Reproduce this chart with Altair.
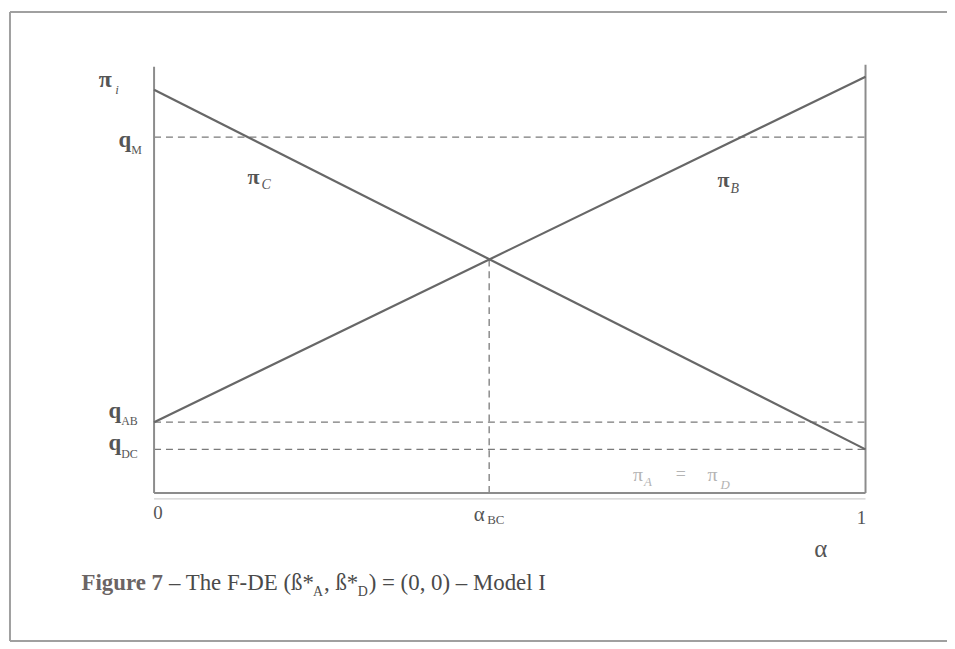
import altair as alt
import pandas as pd

# ---- data ----
alpha_ends = [0.0, 1.0]          # alpha range
pi_C = [93.5, 10.1]              # pi_C at alpha = 0 and 1
pi_B = [16.4, 96.5]              # pi_B at alpha = 0 and 1
q_names = ["M", "AB", "DC"]
q_values = [82.5, 16.4, 10.1]    # horizontal dashed levels
alpha_BC = 0.471                 # crossing point
pi_BC = 54.2
axis_top = [98.8, 99.3]          # height of left / right vertical axis lines

SERIF = "Liberation Serif"
LINE = "#676767"
AXIS = "#8c8c8c"
DASH = "#7a7a7a"
TXT = "#555555"
CAP = "#4a4a4a"
FRAME = "#a0a0a0"

xs = alt.Scale(domain=[0, 1], nice=False, zero=False)
ys = alt.Scale(domain=[0, 100], nice=False, zero=False)
dummy = pd.DataFrame({"k": [0]})


def X(f="a"):
    return alt.X(f"{f}:Q", scale=xs, axis=None)


def Y(f="v"):
    return alt.Y(f"{f}:Q", scale=ys, axis=None)


# frame round the figure (left, top, bottom; right edge runs off the page)
frame_top = alt.Chart(dummy).mark_rule(color=FRAME, strokeWidth=2).encode(
    x=alt.value(-145), x2=alt.value(800), y=alt.value(-50)
)
frame_bot = alt.Chart(dummy).mark_rule(color=FRAME, strokeWidth=2).encode(
    x=alt.value(-145), x2=alt.value(800), y=alt.value(583)
)
frame_left = alt.Chart(dummy).mark_rule(color=FRAME, strokeWidth=2).encode(
    x=alt.value(-145), y=alt.value(-50), y2=alt.value(583)
)

# axis lines
vax_df = pd.DataFrame({"a": alpha_ends, "v0": [0, 0], "v1": axis_top})
vaxes = alt.Chart(vax_df).mark_rule(color=AXIS, strokeWidth=2).encode(
    x=X(), y=Y("v0"), y2="v1:Q"
)
hax_df = pd.DataFrame({"a": [alpha_ends[0]], "a2": [alpha_ends[1]], "v": [0]})
haxis = alt.Chart(hax_df).mark_rule(color=AXIS, strokeWidth=2).encode(
    x=X(), x2="a2:Q", y=Y()
)
haxis2 = alt.Chart(hax_df).mark_rule(color="#d0d0d0", strokeWidth=1.2).encode(
    x=X(), x2="a2:Q", y=alt.value(440)
)

# dashed levels
q_df = pd.DataFrame({"a": [alpha_ends[0]] * 3, "a2": [alpha_ends[1]] * 3, "v": q_values, "n": q_names})
qrules = alt.Chart(q_df).mark_rule(color=DASH, strokeWidth=1.3, strokeDash=[7, 5]).encode(
    x=X(), x2="a2:Q", y=Y()
)

# vertical dashed at alpha_BC
vd_df = pd.DataFrame({"a": [alpha_BC], "v0": [0], "v1": [pi_BC]})
vdash = alt.Chart(vd_df).mark_rule(color=DASH, strokeWidth=1.3, strokeDash=[7, 5]).encode(
    x=X(), y=Y("v0"), y2="v1:Q"
)

# profit lines
lines_df = pd.DataFrame({
    "a": alpha_ends + alpha_ends,
    "v": pi_C + pi_B,
    "s": ["C", "C", "B", "B"],
})
lines = alt.Chart(lines_df).mark_line(color=LINE, strokeWidth=2.2).encode(
    x=X(), y=Y(), detail="s:N"
)


def txt_at(text, a, v, dx, dy, size, weight="normal", style="normal", color=TXT, align="left"):
    return alt.Chart(dummy).mark_text(
        text=text, dx=dx, dy=dy, fontSize=size, font=SERIF, fontWeight=weight,
        fontStyle=style, color=color, align=align, baseline="alphabetic",
    ).encode(
        x=alt.X(datum=a, type="quantitative", scale=xs, axis=None),
        y=alt.Y(datum=v, type="quantitative", scale=ys, axis=None),
    )


def txt_px(text, x, y, size, weight="normal", style="normal", color=TXT, align="left"):
    return alt.Chart(dummy).mark_text(
        text=text, fontSize=size, font=SERIF, fontWeight=weight,
        fontStyle=style, color=color, align=align, baseline="alphabetic",
    ).encode(x=alt.value(x), y=alt.value(y))


labels = [
    # pi_i
    txt_at("π", 0, axis_top[0], -49, 20, 24, weight="bold", align="center"),
    txt_at("i", 0, axis_top[0], -39, 27, 13, style="italic"),
    # q labels
    txt_at("q", 0, q_values[0], -23, 10, 23, weight="bold", align="right"),
    txt_at(q_names[0], 0, q_values[0], -23, 17, 12),
    txt_at("q", 0, q_values[1], -33, -4, 23, weight="bold", align="right"),
    txt_at(q_names[1], 0, q_values[1], -33, 3, 12),
    txt_at("q", 0, q_values[2], -33, 1, 23, weight="bold", align="right"),
    txt_at(q_names[2], 0, q_values[2], -33, 9, 12),
    # x tick labels
    txt_at("0", 0, 0, 4, 26, 19, align="center"),
    txt_at("1", 1, 0, -4, 31, 19, align="center"),
    txt_at("α", alpha_BC, 0, -10, 28, 21, align="center"),
    txt_at("BC", alpha_BC, 0, -2, 31, 13),
    # axis title
    txt_px("α", 671, 498, 25, align="center"),
    # curve labels
    txt_px("π", 100, 123, 22, weight="bold", align="center"),
    txt_px("C", 108, 128, 14, style="italic"),
    txt_px("π", 573, 126, 22, weight="bold", align="center"),
    txt_px("B", 580, 132, 14, style="italic"),
    txt_px("π", 487, 422, 20, color="#b4b4b4", align="center"),
    txt_px("A", 493, 427, 13, style="italic", color="#b4b4b4"),
    txt_px("=", 530, 421, 18, color="#b4b4b4", align="center"),
    txt_px("π", 562, 422, 20, color="#b4b4b4", align="center"),
    txt_px("D", 570, 430, 13, style="italic", color="#b4b4b4"),
    # caption
    txt_px("Figure 7", -73, 532, 23, weight="bold", color="#6b6464"),
    txt_px("– The F-DE (ß*", 15, 532, 23, color=CAP),
    txt_px("A", 160, 538, 14, color=CAP),
    txt_px(", ß*", 171, 532, 23, color=CAP),
    txt_px("D", 205, 538, 14, color=CAP),
    txt_px(") = (0, 0) – Model I", 216, 532, 23, color=CAP),
]

chart = alt.layer(
    frame_top, frame_bot, frame_left, qrules, vdash, vaxes, haxis2, haxis, lines, *labels
).properties(
    width=716,
    height=434,
    autosize=alt.AutoSizeParams(type="none"),
    padding={"left": 147, "top": 52, "right": 82, "bottom": 153},
    background="white",
).configure_view(stroke=None)

chart.save("out.html", embed_options={"renderer": "svg", "actions": False})
